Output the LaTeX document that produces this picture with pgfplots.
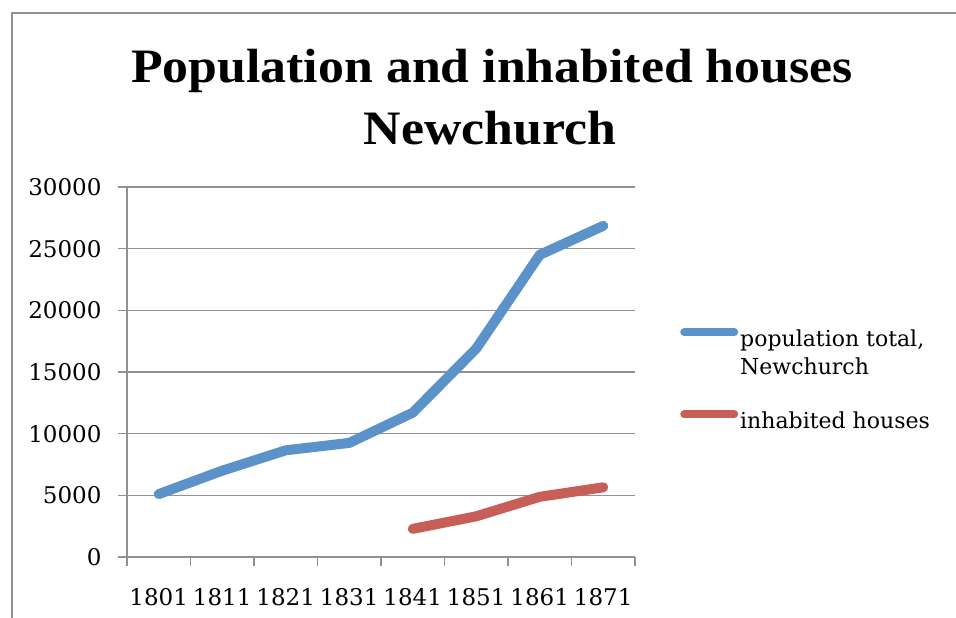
\documentclass[border=0pt]{standalone}
\usepackage{pgfplots}
\pgfplotsset{compat=1.18}
\usepackage{fontspec}
\setmainfont{DejaVu Serif}
\newfontfamily\titlefont{Liberation Serif}
\definecolor{serblue}{RGB}{91,146,201}
\definecolor{serred}{RGB}{200,94,88}
\definecolor{gridgray}{RGB}{145,145,145}
\begin{document}
\begin{tikzpicture}
\useasboundingbox (0pt,0pt) rectangle (956pt,618pt);
\draw[gridgray, line width=1.5pt] (12pt,0pt) -- (12pt,605pt) -- (956pt,605pt);
\node[font=\titlefont\bfseries\fontsize{48}{58}\selectfont, anchor=base, inner sep=0pt] at (492pt,535pt) {\scalebox{1.08}[1]{Population and inhabited houses}};
\node[font=\titlefont\bfseries\fontsize{48}{58}\selectfont, anchor=base, inner sep=0pt] at (490pt,473pt) {\scalebox{1.08}[1]{Newchurch}};
\begin{axis}[
  at={(127pt,61pt)}, anchor=south west,
  scale only axis, width=508pt, height=370pt,
  xmin=-0.5, xmax=7.5, ymin=0, ymax=30000,
  xtick={0,...,7},
  xticklabels={1801,1811,1821,1831,1841,1851,1861,1871},
  minor xtick={-0.5,0.5,...,7.5},
  ytick={0,5000,...,30000},
  scaled y ticks=false,
  /pgf/number format/assume math mode=true,
  yticklabel={\pgfmathprintnumber[fixed,1000 sep={}]{\tick}},
  ticklabel style={font=\fontsize{23}{26}\selectfont},
  axis lines*=left,
  axis line style={gridgray, line width=1.5pt, -},
  tick style={gridgray, line width=1.5pt},
  major x tick style={draw=none},
  tick align=outside,
  major tick length=9pt, minor tick length=9pt,
  ymajorgrids, grid style={gridgray, line width=1.5pt},
  xticklabel style={anchor=base, yshift=-39pt},
  yticklabel style={anchor=east, xshift=-13pt},
  legend style={draw=none, fill=none, at={(1.0886,0.619)}, anchor=north west,
    font=\fontsize{22}{28}\selectfont, cells={anchor=west, align=left},
    row sep=31pt, inner sep=0pt, column sep=0pt},
]
\addplot[serblue, line width=10pt, line cap=round, line join=round,
  legend image code/.code={\draw[serblue, line width=8pt, line cap=round] (4pt,21pt) -- (54pt,21pt);}] coordinates {
(0,5100) (1,7000) (2,8650) (3,9250) (4,11700) (5,16900) (6,24500) (7,26850)};
\addlegendentry{population total,\\Newchurch}
\addplot[serred, line width=10pt, line cap=round, line join=round,
  legend image code/.code={\draw[serred, line width=8pt, line cap=round] (4pt,6pt) -- (54pt,6pt);}] coordinates {
(4,2280) (5,3300) (6,4880) (7,5650)};
\addlegendentry{inhabited houses}
\end{axis}
\end{tikzpicture}
\end{document}
